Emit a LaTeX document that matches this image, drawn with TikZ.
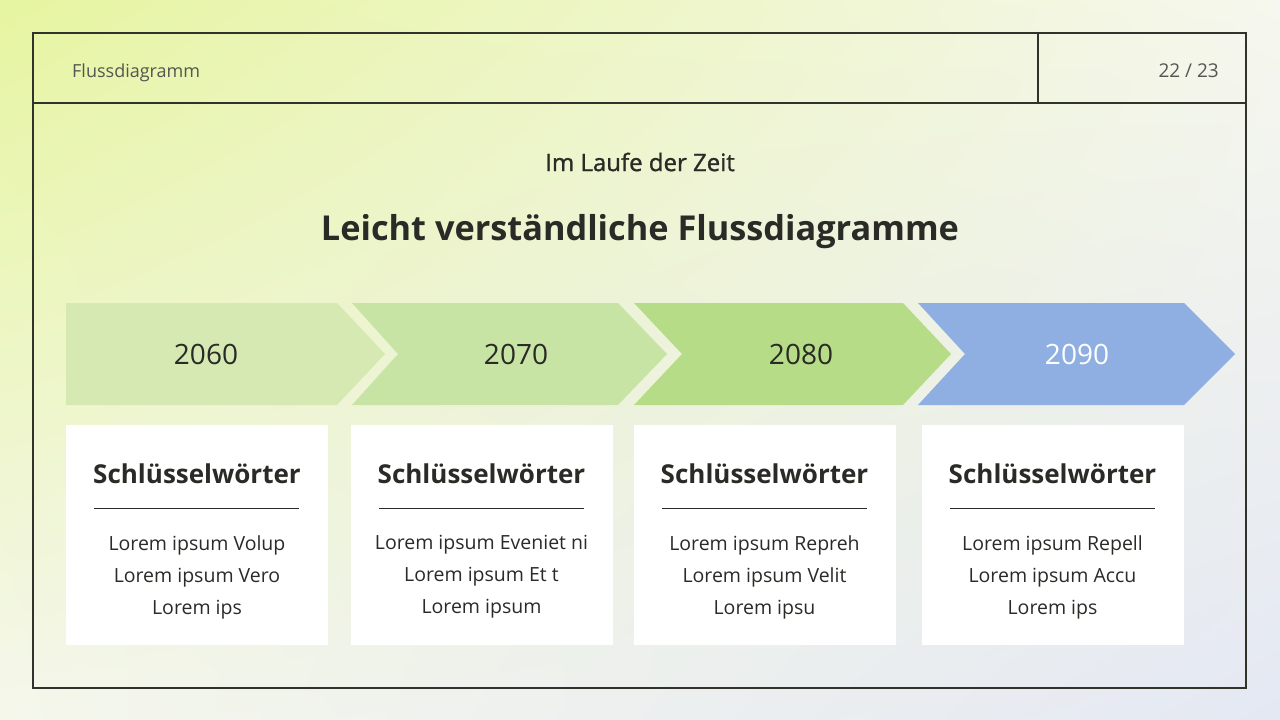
\documentclass[tikz,border=0pt]{standalone}
\usepackage{fontspec}
\setmainfont{Open Sans}
\newfontfamily\semifont[FakeBold=1.2]{Open Sans}
\usepackage{tikz}
\usetikzlibrary{positioning, shadings}

\definecolor{ink}{RGB}{42,42,38}
\definecolor{frameline}{RGB}{50,50,45}
\definecolor{greenA}{RGB}{214,233,178}
\definecolor{greenB}{RGB}{200,228,164}
\definecolor{greenC}{RGB}{182,220,135}
\definecolor{blueD}{RGB}{143,175,226}
\definecolor{bgUL}{RGB}{230,245,160}
\definecolor{bgUR}{RGB}{246,247,238}
\definecolor{bgLL}{RGB}{245,247,236}
\definecolor{bgLR}{RGB}{228,232,243}

\begin{document}
\begin{tikzpicture}[x=1pt, y=-1pt,
  year/.style={font=\fontsize{28}{32}\selectfont, text=ink},
  card/.style={fill=white, draw=none, minimum width=262pt, minimum height=220pt, inner sep=0pt},
  head/.style={font=\bfseries\fontsize{26}{30}\selectfont, text=ink},
  body/.style={font=\fontsize{19.5}{32}\selectfont, text=ink, align=center},
  rule/.style={ink, line width=1pt}]

\useasboundingbox (0,0) rectangle (1280,720);

% Background
\shade [upper left=bgUL, upper right=bgUR, lower left=bgLL, lower right=bgLR] (0,0) rectangle (1280,720);

% Frame
\draw [frameline, line width=1.2pt] (33,33) rectangle (1246,688);
\draw [frameline, line width=1.2pt] (33,103) -- (1246,103);
\draw [frameline, line width=1.2pt] (1038,33) -- (1038,103);

% Header
\node (hdr) at (72,73) [right, inner sep=0pt, font=\fontsize{18}{20}\selectfont, text=ink!80] {Flussdiagramm};
\node (page) at (1219,71) [left, inner sep=0pt, font=\fontsize{19}{21}\selectfont, text=ink!80] {22 / 23};

% Titles
\node (sub) at (640,162) [font=\semifont\fontsize{24}{28}\selectfont, text=ink] {Im Laufe der Zeit};
\node (title) at (640,232) [font=\bfseries\fontsize{34.3}{40}\selectfont, text=ink] {Leicht verständliche Flussdiagramme};

% Arrows
\fill [greenA] (66,303) -- (337,303) -- (385,354) -- (337,405) -- (66,405) -- cycle;
\fill [greenB] (352,303) -- (618,303) -- (667,354) -- (618,405) -- (352,405) -- (398,354) -- cycle;
\fill [greenC] (634,303) -- (903,303) -- (951,354) -- (903,405) -- (634,405) -- (682,354) -- cycle;
\fill [blueD] (918,303) -- (1184,303) -- (1235,354) -- (1184,405) -- (918,405) -- (965,354) -- cycle;

\node (y1) at (206,354) [year] {2060};
\node (y2) at (516,354) [year] {2070};
\node (y3) at (801,354) [year] {2080};
\node (y4) at (1077,354) [year, text=white] {2090};

% Cards
\node (card1) at (197,535) [card] {};
\node (card2) at (481.5,535) [card] {};
\node (card3) at (764.5,535) [card] {};
\node (card4) at (1052.5,535) [card] {};

\node (head1) at (197,474) [head] {Schlüsselwörter};
\node (head2) at (481.5,474) [head] {Schlüsselwörter};
\node (head3) at (764.5,474) [head] {Schlüsselwörter};
\node (head4) at (1052.5,474) [head] {Schlüsselwörter};

\draw [rule] (94,508) -- ++(205,0);
\draw [rule] (379,508) -- ++(205,0);
\draw [rule] (662,508) -- ++(205,0);
\draw [rule] (950,508) -- ++(205,0);

\node (body1) at (197,577) [body] {Lorem ipsum Volup\\Lorem ipsum Vero\\Lorem ips};
\node (body2) at (481.5,577) [body] {Lorem ipsum Eveniet ni\\Lorem ipsum Et t\\Lorem ipsum};
\node (body3) at (764.5,577) [body] {Lorem ipsum Repreh\\Lorem ipsum Velit\\Lorem ipsu};
\node (body4) at (1052.5,577) [body] {Lorem ipsum Repell\\Lorem ipsum Accu\\Lorem ips};

\end{tikzpicture}
\end{document}
